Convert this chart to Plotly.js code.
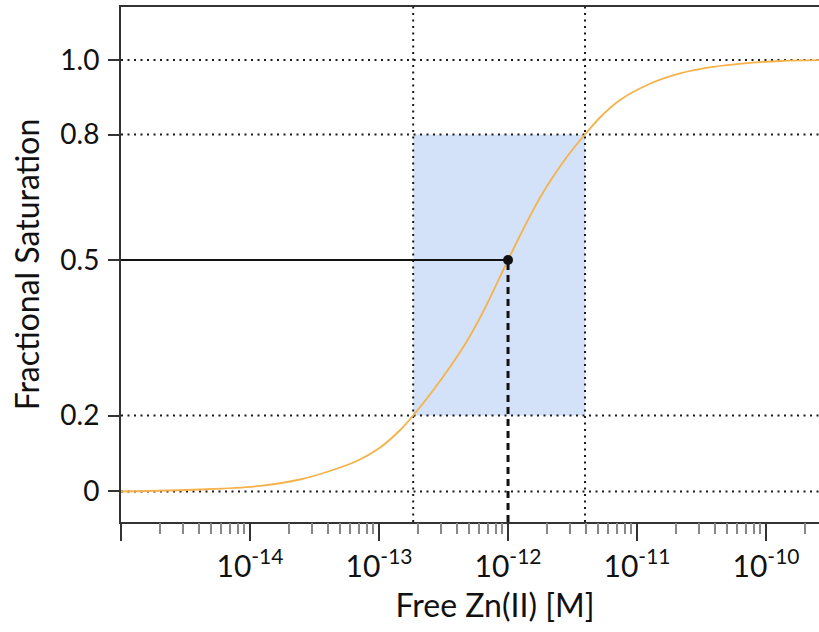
<!DOCTYPE html>
<html><head><meta charset="utf-8">
<script src="https://cdn.plot.ly/plotly-3.0.1.min.js"></script>
<style>html,body{margin:0;padding:0;overflow:hidden;background:#fff;width:819px;height:632px}#chart{width:869px;height:632px}</style>
</head><body><div id="chart"></div>
<script>
// Fractional saturation curve (y in drawn-axis units)
const curveX = [1e-15, 4.09e-15, 1.20e-14, 2.44e-14, 4.99e-14, 7.13e-14, 1.02e-13, 1.46e-13, 1.84e-13, 2.62e-13,
  3.55e-13, 4.81e-13, 6.40e-13, 1e-12, 1.24e-12, 1.56e-12, 2.00e-12, 2.53e-12, 3.13e-12, 3.95e-12,
  5.16e-12, 7.38e-12, 1.20e-11, 2.15e-11, 3.88e-11, 7.13e-11, 1.29e-10, 2.58e-10];
const curveY = [0, 0.0046, 0.0130, 0.0278, 0.0556, 0.0742, 0.1020, 0.1425, 0.1761, 0.2341,
  0.2885, 0.3488, 0.4160, 0.5365, 0.5933, 0.6512, 0.7073, 0.7532, 0.7907, 0.8273,
  0.8667, 0.9073, 0.9421, 0.9687, 0.9838, 0.9926, 0.9977, 0.9995];

const yTickVals = [0, 0.1761, 0.5365, 0.8273, 1.0];
const yTickText = ['0', '0.2', '0.5', '0.8', '1.0'];
const xTickVals = [1e-15, 1e-14, 1e-13, 1e-12, 1e-11, 1e-10];
const xTickText = ['', '10<sup>-14</sup>', '10<sup>-13</sup>', '10<sup>-12</sup>', '10<sup>-11</sup>', '10<sup>-10</sup>'];
const minorDigits = [2, 3, 4, 5, 6, 7, 8, 9];
const minorDecades = [1e-15, 1e-14, 1e-13, 1e-12, 1e-11, 1e-10];
const xRangeLog = [-15, -9.202];
const yRange = [-0.0707, 1.1228];

const boundX = [1.84e-13, 3.95e-12];   // 20 % and 80 % saturation
const boundY = [0.1761, 0.8273];
const midX = 1e-12, midY = 0.5365;     // half saturation
const gridY = [0, 0.1761, 0.8273, 1.0];

const xMinorVals = [];
minorDecades.forEach(d => minorDigits.forEach(m => xMinorVals.push(m * d)));
const xMin = Math.pow(10, xRangeLog[0]), xMax = Math.pow(10, xRangeLog[1]);

const hx = [], hy = [];
gridY.forEach(g => { hx.push(xMin, xMax, null); hy.push(g, g, null); });
const vx = [], vy = [];
boundX.forEach(b => { vx.push(b, b, null); vy.push(yRange[0], yRange[1], null); });

const dotLine = {color: '#1a1a1a', width: 2, dash: '2px,4.5px'};
const traces = [
  {x: [boundX[0], boundX[1], boundX[1], boundX[0], boundX[0]],
   y: [boundY[0], boundY[0], boundY[1], boundY[1], boundY[0]],
   mode: 'lines', fill: 'toself', fillcolor: '#d3e2f9', line: {width: 0}, hoverinfo: 'skip'},
  {x: hx, y: hy, mode: 'lines', line: dotLine, hoverinfo: 'skip'},
  {x: vx, y: vy, mode: 'lines', line: dotLine, hoverinfo: 'skip'},
  {x: curveX, y: curveY, mode: 'lines', line: {color: '#f6b24a', width: 1.8, shape: 'spline', smoothing: 1}},
  {x: [xMin, midX], y: [midY, midY], mode: 'lines', line: {color: '#111', width: 2.2}},
  {x: [midX, midX], y: [yRange[0], midY], mode: 'lines', line: {color: '#111', width: 3, dash: '7px,5px'}},
  {x: [midX], y: [midY], xaxis: 'x2', yaxis: 'y', mode: 'markers', marker: {color: '#111', size: 10}}
];

const font = 'Lato, "Open Sans", sans-serif';
const layout = {
  width: 869, height: 632,
  margin: {l: 121, r: 0, t: 7, b: 110},
  paper_bgcolor: '#fff', plot_bgcolor: '#fff',
  showlegend: false,
  font: {family: font, color: '#111'},
  xaxis: {
    type: 'log', range: xRangeLog, fixedrange: true,
    tickmode: 'array', tickvals: xTickVals, ticktext: xTickText,
    ticks: 'outside', ticklen: 17, tickwidth: 2, tickcolor: '#333',
    tickfont: {size: 30, family: font, color: '#111'},
    showline: true, linewidth: 2, linecolor: '#333', mirror: true,
    showgrid: false, zeroline: false,
    title: {text: 'Free Zn(II) [M]', font: {size: 32, family: font, color: '#111'}, standoff: 13}
  },
  xaxis2: {
    type: 'log', range: xRangeLog, overlaying: 'x', anchor: 'y', side: 'bottom', fixedrange: true,
    tickmode: 'array', tickvals: xMinorVals, ticks: 'outside', ticklen: 11, tickwidth: 2, tickcolor: '#888',
    showticklabels: false, showline: false, showgrid: false, zeroline: false
  },
  yaxis: {
    range: yRange, fixedrange: true,
    tickmode: 'array', tickvals: yTickVals, ticktext: yTickText,
    ticks: 'outside', ticklen: 11, tickwidth: 2, tickcolor: '#333',
    tickfont: {size: 28, family: font, color: '#111'},
    ticklabelstandoff: 3,
    showline: true, linewidth: 2, linecolor: '#333',
    showgrid: false, zeroline: false,
    title: {text: 'Fractional Saturation', font: {size: 32, family: font, color: '#111'}, standoff: 11}
  }
};
Plotly.newPlot('chart', traces, layout, {staticPlot: true, displayModeBar: false});
</script></body></html>
